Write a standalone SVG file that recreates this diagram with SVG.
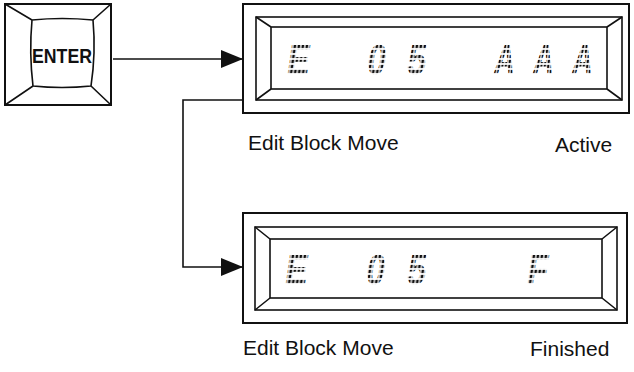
<svg xmlns="http://www.w3.org/2000/svg" width="634" height="372" viewBox="0 0 634 372">
<style>
.ln{fill:none;stroke:#111;stroke-width:1.6}
.box{fill:#fff;stroke:#111;stroke-width:2}
.lbl{font-family:"Liberation Sans",Arial,sans-serif;font-size:21px;fill:#111}
.key{font-family:"Liberation Sans",Arial,sans-serif;font-weight:bold;font-size:21px;fill:#111}
.dm{font-family:"Liberation Sans",Arial,sans-serif;font-weight:bold;font-size:42px;fill:url(#dots);text-anchor:middle}
</style>
<defs>
<pattern id="dots" patternUnits="userSpaceOnUse" width="5" height="5">
<rect x="0.8" y="0.8" width="3.3" height="3.3" fill="#111"/>
</pattern>
<marker id="ah" markerUnits="userSpaceOnUse" markerWidth="24" markerHeight="20" refX="22" refY="9" orient="auto">
<path d="M0,0 L22,9 L0,18 Z" fill="#111"/>
</marker>
</defs>

<g id="enter-key">
<rect class="box" x="5" y="4" width="106" height="101"/>
<path class="ln" d="M32,20 Q62,17 93,20 Q96,53 91,86 Q62,89 33,86 Q29,53 32,20 Z"/>
<path class="ln" d="M5,4 L32,20 M111,4 L93,20 M111,105 L91,86 M5,105 L33,86"/>
<text class="key" x="62" y="63" text-anchor="middle" textLength="60" lengthAdjust="spacingAndGlyphs">ENTER</text>
</g>

<g id="display-active">
<rect class="box" x="243" y="4" width="386" height="109"/>
<rect class="ln" x="256" y="17" width="366" height="83"/>
<rect class="ln" x="271" y="27" width="336" height="62"/>
<path class="ln" d="M256,17 L271,27 M622,17 L607,27 M622,100 L607,89 M256,100 L271,89"/>
<text class="dm" transform="translate(297,74) skewX(-8) scale(0.8,1)">E</text>
<text class="dm" transform="translate(375,74) skewX(-8) scale(0.8,1)">0</text>
<text class="dm" transform="translate(415,74) skewX(-8) scale(0.8,1)">5</text>
<text class="dm" transform="translate(503,74) skewX(-8) scale(0.68,1)">A</text>
<text class="dm" transform="translate(542,74) skewX(-8) scale(0.68,1)">A</text>
<text class="dm" transform="translate(581,74) skewX(-8) scale(0.68,1)">A</text>
<text class="lbl" x="248" y="150">Edit Block Move</text>
<text class="lbl" x="555" y="152">Active</text>
</g>

<g id="display-finished">
<rect class="box" x="243" y="213" width="384" height="110"/>
<rect class="ln" x="255" y="227" width="362" height="83"/>
<rect class="ln" x="270" y="239" width="332" height="59"/>
<path class="ln" d="M255,227 L270,239 M617,227 L602,239 M617,310 L602,298 M255,310 L270,298"/>
<text class="dm" transform="translate(295,284) skewX(-8) scale(0.8,1)">E</text>
<text class="dm" transform="translate(374,284) skewX(-8) scale(0.8,1)">0</text>
<text class="dm" transform="translate(415,284) skewX(-8) scale(0.8,1)">5</text>
<text class="dm" transform="translate(536,284) skewX(-8) scale(0.8,1)">F</text>
<text class="lbl" x="243" y="355">Edit Block Move</text>
<text class="lbl" x="530" y="356">Finished</text>
</g>

<g id="connectors">
<path class="ln" d="M113,59 L243,59" marker-end="url(#ah)"/>
<path class="ln" d="M243,100 L183,100 L183,267 L243,267" marker-end="url(#ah)"/>
</g>
</svg>
